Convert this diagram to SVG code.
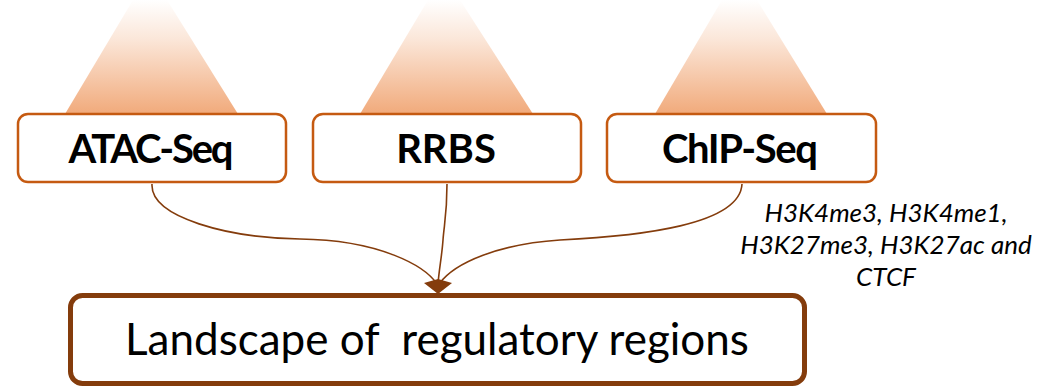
<svg xmlns="http://www.w3.org/2000/svg" width="1051" height="390" viewBox="0 0 1051 390">
  <defs>
    <linearGradient id="beam" x1="0" y1="0" x2="0" y2="1">
      <stop offset="0" stop-color="#ffffff"/>
      <stop offset="0.35" stop-color="#fbe6d8"/>
      <stop offset="1" stop-color="#f1aa7b"/>
    </linearGradient>
    <style>
      .beam { fill: url(#beam); }
      .box { fill: #ffffff; stroke: #c55a11; stroke-width: 2.5; }
      .main { fill: #ffffff; stroke: #843c0c; stroke-width: 5; }
      .lbl { font-family: Lato, "Open Sans", sans-serif; font-weight: bold; font-size: 40px; fill: #000000; text-anchor: middle; }
      .mlbl { font-family: Lato, "Open Sans", sans-serif; font-size: 44px; fill: #000000; white-space: pre; }
      .note { font-family: Lato, "Open Sans", sans-serif; font-style: italic; font-size: 26px; fill: #000000; text-anchor: middle; }
      .conn { fill: none; stroke: #843c0c; stroke-width: 1.6; }
      .head { fill: #843c0c; }
    </style>
  </defs>

  <g id="beams">
    <polygon class="beam" points="133,0 167,0 238,114 65,114"/>
    <polygon class="beam" points="428,0 460,0 533,114 360,114"/>
    <polygon class="beam" points="722,0 757,0 827,114 655,114"/>
  </g>

  <g id="connectors">
    <path class="conn" d="M152,184 C150,218 230,238 300,239 C380,240 425,266 437,284"/>
    <path class="conn" d="M447,184 C447,215 444,225 443,240 C442,255 439,270 438,284"/>
    <path class="conn" d="M742,184 C740,225 640,236 560,240 C500,244 455,262 439,284"/>
    <path class="head" d="M424,283 L438,279 L452,283 L443,290 L438,294 L433,290 Z"/>
  </g>

  <g id="node-atac">
    <rect class="box" x="18" y="114" width="268" height="68" rx="10"/>
    <text class="lbl" x="151" y="163" textLength="165" lengthAdjust="spacing">ATAC-Seq</text>
  </g>

  <g id="node-rrbs">
    <rect class="box" x="313" y="114" width="268" height="68" rx="10"/>
    <text class="lbl" x="446" y="163">RRBS</text>
  </g>

  <g id="node-chip">
    <rect class="box" x="607" y="114" width="269" height="68" rx="10"/>
    <text class="lbl" x="740" y="163" textLength="156" lengthAdjust="spacing">ChIP-Seq</text>
  </g>

  <g id="note-chip">
    <text class="note" x="886" y="222">H3K4me3, H3K4me1,</text>
    <text class="note" x="886" y="254">H3K27me3, H3K27ac and</text>
    <text class="note" x="886" y="286">CTCF</text>
  </g>

  <g id="node-landscape">
    <rect class="main" x="70.5" y="295.5" width="734" height="88" rx="12"/>
    <text class="mlbl" x="125" y="355" xml:space="preserve">Landscape of  regulatory regions</text>
  </g>
</svg>
